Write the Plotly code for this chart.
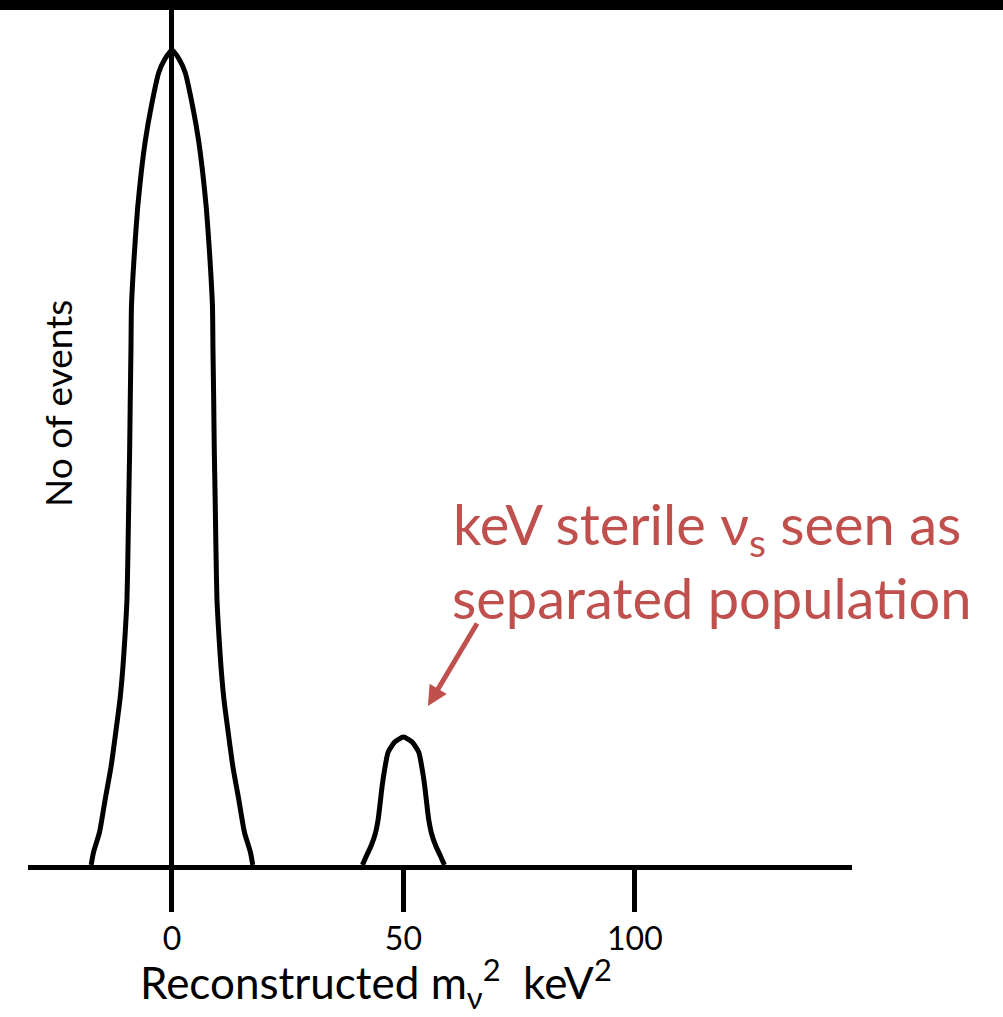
import plotly.graph_objects as go

# Main population centred at m^2 = 0 (relative event counts, peak = 100).
# Half-width of the curve (in keV^2) at each height, mirrored about zero.
main_half = [17.45, 16.93, 15.66, 14.41, 13.15, 12.14, 11.23, 10.58, 10.09, 9.72, 9.50,
             9.33, 9.14, 9.01, 8.86, 8.75, 8.38, 7.93, 7.39, 6.65, 5.72, 4.49, 2.87, 1.62, 0.0]
main_level = [0.0, 1.6, 4.0, 8.1, 12.1, 16.3, 20.3, 24.4, 28.6, 32.6, 38.7,
              44.9, 51.0, 57.1, 63.2, 68.5, 72.7, 76.7, 80.8, 84.9, 89.0, 93.0, 97.2, 98.8, 100.0]

# Sterile neutrino population centred at m^2 = 50
sterile_centre = 50.0
sterile_half = [8.86, 8.0, 7.0, 6.1, 5.45, 5.0, 4.6, 4.05, 3.3, 1.9, 0.0]
sterile_level = [0.0, 1.1, 2.33, 3.8, 5.64, 7.72, 9.68, 11.76, 13.85, 15.07, 15.7]

tick_vals = [0, 50, 100]
tick_text = ["0", "50", "100"]

X_RANGE = [-31.1, 146.9]
Y_RANGE = [0, 104.9]

RED = "#c0504d"
FONT = "Lato"


def mirrored(centre, half, level):
    """Left flank (rising) followed by right flank (falling)."""
    xs = [centre - h for h in half] + [centre + h for h in reversed(half[:-1])]
    ys = list(level) + list(reversed(level[:-1]))
    return xs, ys


main_x, main_y = mirrored(0.0, main_half, main_level)
sterile_x, sterile_y = mirrored(sterile_centre, sterile_half, sterile_level)

fig = go.Figure()
for xs, ys in ((main_x, main_y), (sterile_x, sterile_y)):
    fig.add_trace(go.Scatter(
        x=xs, y=ys, mode="lines",
        line=dict(color="black", width=5, shape="spline", smoothing=0.6),
        hoverinfo="skip", showlegend=False,
    ))

W, H = 1003, 1017
L, R, T, B = 28, 151, 10, 152
pw, ph = W - L - R, H - T - B


def px_x(px):
    return (px - L) / pw


def px_y(py):
    return (H - B - py) / ph


fig.update_layout(
    width=W, height=H,
    margin=dict(l=L, r=R, t=T, b=B),
    paper_bgcolor="white", plot_bgcolor="white",
    font=dict(family=FONT, color="black"),
    xaxis=dict(
        range=X_RANGE, showgrid=False,
        zeroline=True, zerolinecolor="black", zerolinewidth=5,
        showline=True, linecolor="black", linewidth=5,
        ticks="outside", ticklen=42, tickwidth=5, tickcolor="black",
        tickvals=tick_vals, ticktext=tick_text,
        tickfont=dict(family=FONT, size=32, color="black"),
        fixedrange=True,
    ),
    yaxis=dict(
        range=Y_RANGE, showgrid=False, zeroline=False, showline=False,
        showticklabels=False, ticks="", fixedrange=True,
    ),
    shapes=[
        dict(type="rect", xref="paper", yref="paper",
             x0=-0.1, x1=1.3, y0=1.0, y1=1.05,
             fillcolor="black", line=dict(width=0), layer="above"),
    ],
    annotations=[
        dict(xref="paper", yref="paper", x=px_x(376), y=px_y(983),
             text="Reconstructed m<sub>ν</sub><sup>2</sup>  keV<sup>2</sup>",
             showarrow=False, xanchor="center", yanchor="middle",
             font=dict(family=FONT, size=44, color="black")),
        dict(xref="paper", yref="paper", x=px_x(58), y=px_y(404),
             text="No of events", textangle=-90,
             showarrow=False, xanchor="center", yanchor="middle",
             font=dict(family=FONT, size=37, color="black")),
        dict(xref="paper", yref="paper", x=px_x(451), y=px_y(527),
             text="keV sterile ν<sub>s</sub> seen as",
             showarrow=False, xanchor="left", yanchor="middle",
             font=dict(family=FONT, size=56, color=RED)),
        dict(xref="paper", yref="paper", x=px_x(450), y=px_y(597),
             text="separated population",
             showarrow=False, xanchor="left", yanchor="middle",
             font=dict(family=FONT, size=56, color=RED)),
        dict(xref="x", yref="y", x=55.3, y=19.5, text="",
             showarrow=True, arrowhead=2, arrowsize=0.8, arrowwidth=5,
             arrowcolor=RED, ax=50, ay=-84, standoff=0),
    ],
)

fig.write_html("out.html")
